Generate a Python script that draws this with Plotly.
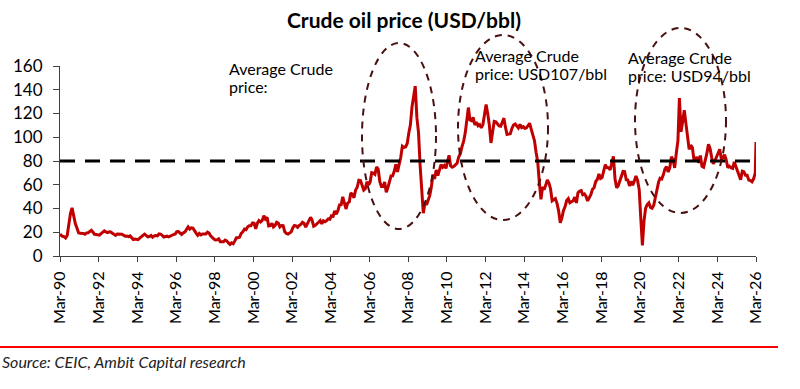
import pandas as pd
import plotly.graph_objects as go

# Monthly crude oil prices (USD/bbl), Mar-1990 onwards (read/estimated from chart)
prices_by_year = {
    1990: [18.4, 16.6, 16.3, 15.1, 17.2, 27.2, 35.9, 40.5, 32.3, 27.3],
    1991: [23.6, 19.5, 19.1, 19.2, 19.0, 18.3, 19.5, 19.6, 20.4, 21.6, 20.0, 18.2],
    1992: [18.1, 18.1, 17.6, 18.9, 19.9, 21.1, 20.2, 19.7, 20.3, 20.2, 19.2, 18.3],
    1993: [17.4, 18.6, 18.7, 18.6, 18.4, 17.5, 16.6, 16.8, 16.3, 16.9, 15.4, 13.8],
    1994: [14.3, 13.8, 13.8, 15.0, 16.3, 17.3, 18.4, 17.4, 16.1, 16.4, 17.3, 15.8],
    1995: [16.9, 17.2, 17.0, 18.6, 18.4, 17.4, 16.0, 16.4, 16.7, 16.1, 16.9, 17.9],
    1996: [18.1, 18.6, 20.5, 20.6, 19.1, 18.2, 19.5, 20.1, 22.3, 24.5, 22.6, 23.7],
    1997: [23.5, 20.8, 19.3, 17.4, 19.0, 17.8, 18.6, 18.6, 18.6, 20.1, 19.2, 17.1],
    1998: [15.4, 14.3, 13.5, 13.6, 14.4, 12.1, 12.1, 12.0, 13.4, 12.7, 11.0, 9.8],
    1999: [11.1, 10.3, 12.5, 15.3, 15.3, 15.9, 19.1, 20.3, 22.6, 22.1, 24.6, 25.5],
    2000: [25.5, 27.8, 27.5, 22.8, 27.6, 29.8, 28.6, 30.0, 34.0, 31.1, 32.6, 25.3],
    2001: [25.6, 27.5, 24.5, 25.7, 28.4, 27.7, 24.5, 25.7, 25.6, 20.5, 18.9, 18.5],
    2002: [19.4, 20.3, 23.7, 25.7, 25.4, 24.1, 25.7, 26.6, 28.4, 27.5, 24.3, 27.0],
    2003: [30.8, 32.6, 30.3, 25.0, 25.8, 27.6, 28.4, 29.8, 27.1, 29.6, 28.8, 29.8],
    2004: [31.3, 30.9, 33.8, 33.4, 37.9, 35.2, 38.2, 43.0, 43.2, 49.8, 43.1, 39.6],
    2005: [44.5, 45.5, 53.1, 51.9, 49.0, 55.6, 57.9, 63.8, 63.6, 58.5, 55.5, 56.7],
    2006: [62.5, 59.7, 62.1, 70.2, 69.8, 68.7, 75.0, 73.2, 62.5, 58.5, 58.5, 62.3],
    2007: [53.7, 57.6, 62.1, 67.4, 67.5, 71.3, 77.2, 70.8, 77.1, 82.9, 92.5, 91.5],
    2008: [91.9, 94.8, 103.3, 110.4, 125.5, 133.9, 143.0, 116.7, 104.1, 76.6, 57.3, 36.0],
    2009: [44.9, 43.2, 47.0, 50.8, 57.9, 68.6, 64.9, 72.5, 67.7, 73.2, 77.0, 74.7],
    2010: [76.2, 73.8, 78.8, 84.8, 75.9, 74.8, 75.6, 77.1, 78.2, 83.5, 86.1, 92.0],
    2011: [96.5, 103.7, 114.6, 125.0, 114.5, 113.9, 116.7, 110.4, 112.8, 109.6, 110.5, 107.9],
    2012: [110.7, 119.3, 127.5, 119.8, 110.3, 95.2, 102.6, 113.4, 113.0, 111.5, 109.5, 109.2],
    2013: [112.3, 116.1, 108.5, 102.3, 102.6, 102.9, 107.4, 110.3, 111.2, 109.5, 107.8, 110.8],
    2014: [108.1, 108.9, 107.5, 107.8, 109.7, 111.8, 106.8, 101.6, 97.1, 87.4, 79.4, 62.3],
    2015: [47.8, 58.1, 55.9, 59.5, 64.1, 61.5, 56.6, 46.5, 47.6, 48.4, 44.3, 38.0],
    2016: [28.0, 32.2, 38.2, 41.6, 46.7, 48.3, 44.9, 45.8, 46.6, 49.5, 44.7, 53.3],
    2017: [54.6, 55.0, 51.6, 52.3, 50.3, 46.4, 48.5, 51.7, 56.2, 57.5, 62.7, 64.4],
    2018: [69.1, 65.3, 66.0, 72.1, 76.9, 74.4, 74.3, 72.5, 78.9, 84.0, 64.8, 57.4],
    2019: [59.4, 64.0, 66.1, 71.2, 71.1, 64.2, 63.9, 59.0, 62.8, 59.7, 63.2, 67.3],
    2020: [63.6, 55.7, 32.0, 9.0, 29.4, 40.3, 43.2, 44.7, 40.9, 40.2, 42.7, 49.9],
    2021: [54.8, 62.3, 65.4, 64.8, 68.3, 73.4, 75.2, 70.8, 74.5, 83.7, 81.0, 74.2],
    2022: [86.5, 97.1, 133.0, 104.6, 113.3, 122.7, 111.9, 100.4, 89.8, 93.3, 91.4, 80.9],
    2023: [82.5, 82.6, 78.4, 84.6, 75.5, 74.8, 80.1, 86.2, 94.0, 90.6, 82.9, 77.6],
    2024: [80.1, 83.5, 85.4, 89.9, 81.8, 82.6, 85.3, 80.9, 74.3, 75.6, 74.4, 73.8],
    2025: [79.2, 75.2, 72.6, 68.0, 64.2, 71.4, 71.0, 67.9, 67.9, 64.0, 63.6, 62.5],
    2026: [65.0, 70.0, 96.0],
}

tick_years = list(range(1990, 2027, 2))
tick_labels = [f"Mar-{y % 100:02d}" for y in tick_years]
threshold = 80

dates = []
prices = []
for yr, vals in prices_by_year.items():
    start_month = 3 if yr == 1990 else 1
    for i, v in enumerate(vals):
        m = start_month + i
        day = 1 if (yr == 1990 and m == 3) or (yr == 2026 and m == 3) else 15
        dates.append(pd.Timestamp(year=yr, month=m, day=day))
        prices.append(v)

fig = go.Figure()
fig.add_trace(go.Scatter(x=dates, y=prices, mode="lines",
                         line=dict(color="#C00000", width=3), showlegend=False))

font_family = "Lato, 'Noto Sans', sans-serif"

# plot area in screen px: x 60..756, y 66..256
L, T = 60, 66
W, H = 696, 190

def px(x):
    return (x - 60) / W

def py(y):
    return (256 - y) / H

fig.update_layout(
    width=800, height=389,
    margin=dict(l=L, r=800 - L - W, t=T, b=389 - T - H, autoexpand=False),
    paper_bgcolor="white", plot_bgcolor="white",
    font=dict(family=font_family, color="black"),
    xaxis=dict(type="date", range=["1990-03-01", "2026-03-01"],
               tickvals=[pd.Timestamp(year=y, month=3, day=1) for y in tick_years],
               ticktext=tick_labels, tickangle=-90, ticks="outside", ticklen=5,
               tickcolor="#404040", showline=True, linecolor="#404040", linewidth=1,
               showgrid=False, zeroline=False, tickfont=dict(size=16),
               ticklabelstandoff=3),
    yaxis=dict(range=[0, 160], dtick=20, ticks="outside", ticklen=6,
               tickcolor="#404040", showline=True, linecolor="#404040", linewidth=1,
               showgrid=False, zeroline=False, tickfont=dict(size=17),
               ticklabelstandoff=7),
)

# title as annotation for precise placement
fig.add_annotation(xref="paper", yref="paper", x=px(404), y=py(20),
                   text="<b>Crude oil price (USD/bbl)</b>", showarrow=False,
                   xanchor="center", yanchor="middle", font=dict(size=21, color="black"))

# threshold dashed line
fig.add_shape(type="line", xref="paper", x0=0, x1=1, yref="y", y0=threshold, y1=threshold,
              line=dict(color="black", width=3, dash="15px,10px"))

# ellipses (screen px boxes)
ell = [(362, 43, 436, 229), (458, 35, 548, 220), (635, 28, 726, 213)]
for x0, y0, x1, y1 in ell:
    fig.add_shape(type="circle", xref="paper", yref="paper",
                  x0=px(x0), y0=py(y1), x1=px(x1), y1=py(y0),
                  line=dict(color="#4A1010", width=2, dash="7px,6px"), layer="above")

notes = [
    (229, 68, "Average Crude"), (229, 86, "price:"),
    (475, 55, "Average Crude"), (475, 73, "price: USD107/bbl"),
    (628, 57, "Average Crude"), (628, 75, "price: USD94/bbl"),
]
for x, y, txt in notes:
    fig.add_annotation(xref="paper", yref="paper", x=px(x), y=py(y),
                       text=txt, showarrow=False, xanchor="left", yanchor="middle",
                       xshift=-2, font=dict(size=16, color="black"))

# red separator line and source
fig.add_shape(type="line", xref="paper", yref="paper", x0=px(0), x1=px(778),
              y0=py(347), y1=py(347), line=dict(color="#FF0000", width=2))
fig.add_annotation(xref="paper", yref="paper", x=px(2), y=py(361),
                   text="<i>Source: CEIC, Ambit Capital research</i>", showarrow=False,
                   xanchor="left", yanchor="middle", xshift=-2,
                   font=dict(size=16, color="#222"))

fig.write_html("out.html", config={"displayModeBar": False},
               post_script="document.body.style.margin='0';")
